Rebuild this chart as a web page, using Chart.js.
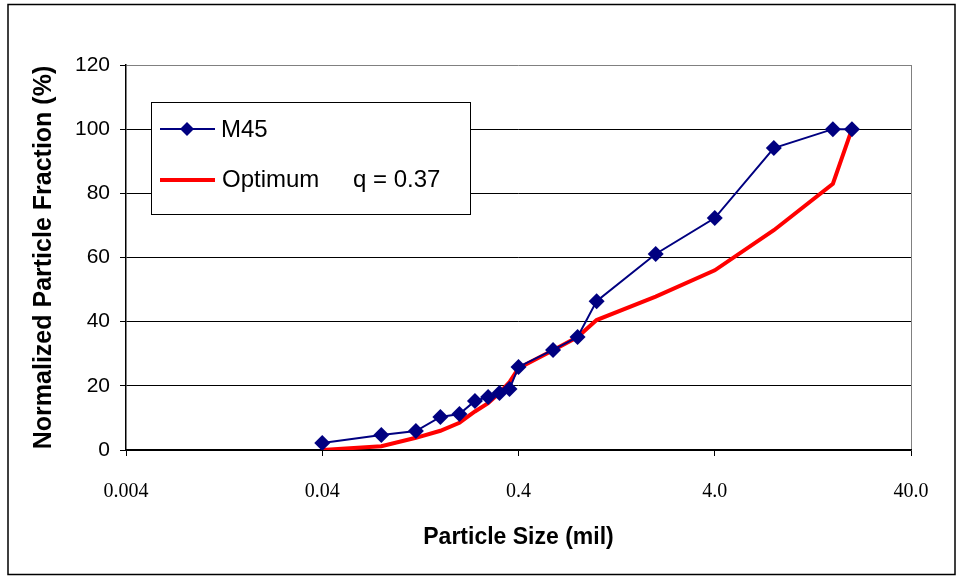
<!DOCTYPE html>
<html>
<head>
<meta charset="utf-8">
<script src="https://cdn.jsdelivr.net/npm/chart.js@4.4.1/dist/chart.umd.min.js"></script>
<style>
  body { margin: 0; background: #fff; }
  canvas { display: block; }
</style>
</head>
<body>
<canvas id="grading" width="960" height="576"></canvas>
<script>
// particle sizes (mil) and cumulative fractions (%)
const sizes = [0.04, 0.08, 0.12, 0.16, 0.2, 0.24, 0.28, 0.32, 0.36, 0.4, 0.6, 0.8, 1.0, 2.0, 4.0, 8.0, 16, 20];
const m45 = [2.2, 4.7, 5.9, 10.3, 11.2, 15.3, 16.5, 17.8, 19.0, 25.9, 31.2, 35.2, 46.4, 61.1, 72.3, 94.1, 100, 100];
const optimum = [0, 1.2, 3.8, 6.0, 8.5, 12.0, 14.6, 17.8, 21.2, 25.5, 31.1, 35.2, 40.5, 47.8, 56.0, 68.5, 83.0, 100];

const xTicks = [0.004, 0.04, 0.4, 4, 40];
const xTickLabels = ["0.004", "0.04", "0.4", "4.0", "40.0"];

const toPoints = ys => sizes.map((x, i) => ({ x: x, y: ys[i] }));

// legend box drawn inside the plot + outer frame
const boxLegend = {
  id: 'boxLegend',
  afterDraw(chart) {
    const ctx = chart.ctx;
    const a = chart.chartArea;
    const bx = a.left + 25, by = a.top + 37, bw = 319, bh = 112;
    ctx.save();
    ctx.fillStyle = '#fff';
    ctx.fillRect(bx, by, bw, bh);
    ctx.strokeStyle = '#000';
    ctx.lineWidth = 1;
    ctx.strokeRect(bx + 0.5, by + 0.5, bw, bh);

    // M45 entry
    let y = by + 27;
    ctx.strokeStyle = '#000080';
    ctx.lineWidth = 2;
    ctx.beginPath();
    ctx.moveTo(bx + 9, y);
    ctx.lineTo(bx + 64, y);
    ctx.stroke();
    ctx.fillStyle = '#000080';
    ctx.beginPath();
    ctx.moveTo(bx + 36, y - 7);
    ctx.lineTo(bx + 43, y);
    ctx.lineTo(bx + 36, y + 7);
    ctx.lineTo(bx + 29, y);
    ctx.closePath();
    ctx.fill();

    ctx.fillStyle = '#000';
    ctx.font = '24px "Liberation Sans", Arial, sans-serif';
    ctx.textBaseline = 'middle';
    ctx.fillText('M45', bx + 70, y + 1);

    // Optimum entry
    y = by + 78;
    ctx.strokeStyle = '#ff0000';
    ctx.lineWidth = 4;
    ctx.beginPath();
    ctx.moveTo(bx + 9, y);
    ctx.lineTo(bx + 64, y);
    ctx.stroke();
    ctx.fillStyle = '#000';
    ctx.fillText('Optimum', bx + 71, y);
    ctx.fillText('q = 0.37', bx + 202, y);

    // outer frame
    ctx.strokeStyle = '#000';
    ctx.lineWidth = 1.5;
    ctx.strokeRect(8, 4.5, 947, 570);
    ctx.restore();
  }
};

new Chart(document.getElementById('grading'), {
  type: 'line',
  data: {
    datasets: [{
      label: 'M45',
      data: toPoints(m45),
      borderColor: '#000080',
      backgroundColor: '#000080',
      borderWidth: 2,
      pointStyle: 'rectRot',
      pointRadius: 8,
      pointBorderWidth: 0,
      tension: 0
    }, {
      label: 'Optimum',
      data: toPoints(optimum),
      borderColor: '#ff0000',
      backgroundColor: '#ff0000',
      borderWidth: 4,
      pointRadius: 0,
      tension: 0
    }]
  },
  options: {
    responsive: false,
    animation: false,
    layout: { padding: { top: 65, right: 49, left: 0, bottom: 0 } },
    plugins: {
      legend: { display: false },
      tooltip: { enabled: false }
    },
    scales: {
      x: {
        type: 'logarithmic',
        min: 0.004,
        max: 40,
        afterBuildTicks: s => { s.ticks = xTicks.map(v => ({ value: v })); },
        afterFit: s => { s.height = 126; },
        ticks: {
          autoSkip: false,
          maxRotation: 0,
          padding: 24,
          color: '#000',
          font: { family: '"Liberation Serif", "Times New Roman", serif', size: 20 },
          callback: (v) => xTickLabels[xTicks.indexOf(v)]
        },
        grid: {
          drawOnChartArea: true,
          color: c => (c.tick && c.tick.value === 40) ? '#808080' : 'rgba(0,0,0,0)',
          tickColor: '#000',
          tickLength: 6
        },
        border: { display: true, color: '#000', width: 1.5 },
        title: {
          display: true,
          text: 'Particle Size (mil)',
          color: '#000',
          font: { family: '"Liberation Sans", Arial, sans-serif', size: 23, weight: 'bold' },
          padding: { top: 0, bottom: 25 }
        }
      },
      y: {
        min: 0,
        max: 120,
        afterFit: s => { s.width = 126; },
        ticks: {
          stepSize: 20,
          padding: 10,
          color: '#000',
          font: { family: '"Liberation Sans", Arial, sans-serif', size: 21 }
        },
        grid: {
          color: c => (c.tick && c.tick.value === 120) ? '#808080' : '#000',
          tickColor: '#000',
          tickLength: 6
        },
        border: { display: true, color: '#000', width: 1.5 },
        title: {
          display: true,
          text: 'Normalized Particle Fraction (%)',
          color: '#000',
          font: { family: '"Liberation Sans", Arial, sans-serif', size: 25, weight: 'bold' },
          padding: { top: 29, bottom: 0 }
        }
      }
    }
  },
  plugins: [boxLegend]
});
</script>
</body>
</html>
